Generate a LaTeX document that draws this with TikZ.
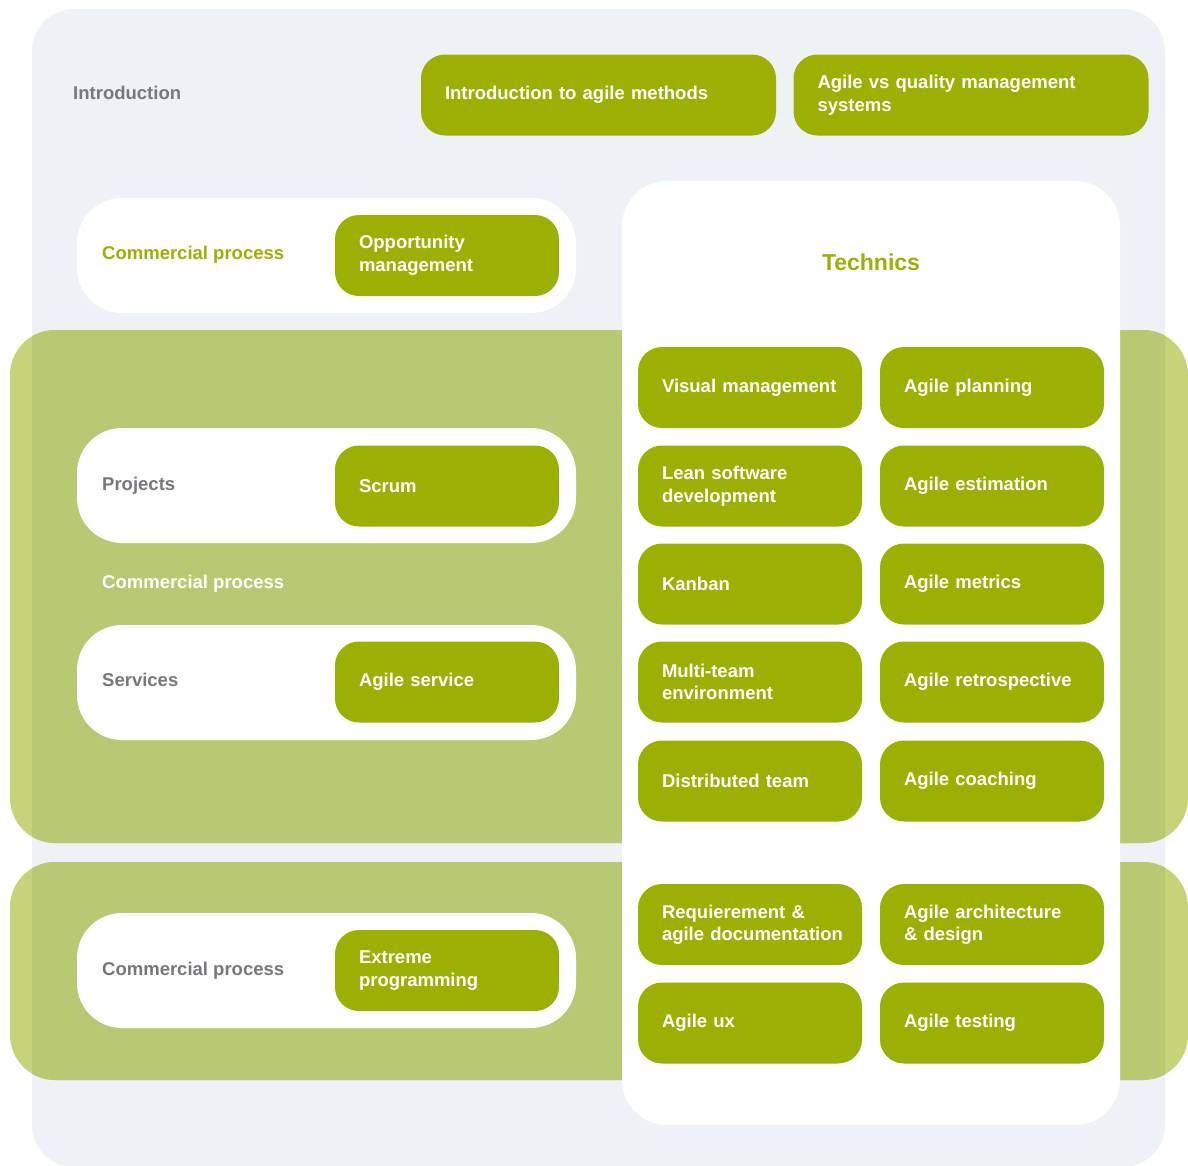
\documentclass[tikz,border=0pt]{standalone}
\usepackage{fontspec}
\setmainfont{Liberation Sans}
\definecolor{bgc}{HTML}{EEF1F6}
\definecolor{agreen}{HTML}{9CB004}
\definecolor{bandin}{HTML}{B9C872}
\definecolor{bandout}{HTML}{C6D378}
\definecolor{lgray}{HTML}{77787B}
\tikzset{
  txt/.style={font=\bfseries\fontsize{18.5}{22.5}\selectfont},
  gbox/.style={txt, fill=agreen, rounded corners=24pt, text=white, align=left,
    inner xsep=24pt, inner ysep=0pt, minimum height=81pt, text width=176pt},
  widebox/.style={gbox, text width=307pt},
  wbox/.style={fill=white, rounded corners=45pt, minimum width=499pt, minimum height=115pt, inner sep=0pt},
  lbl/.style={txt, anchor=base west, inner sep=0pt},
}
\begin{document}
\begin{tikzpicture}[x=1pt,y=-1pt]
\useasboundingbox (0,0) rectangle (1188,1165);
% background
\fill[bgc, rounded corners=42pt] (32,9) rectangle (1165,1167);
% bands
\foreach \ya/\yb in {330/843, 862/1080}{
  \fill[bandout, rounded corners=45pt] (10,\ya) rectangle (1188,\yb);
  \begin{scope}
    \clip[rounded corners=42pt] (32,9) rectangle (1165,1167);
    \fill[bandin, rounded corners=45pt] (10,\ya) rectangle (1188,\yb);
  \end{scope}
}
% white containers
\node[wbox] (wcp) at (326.5,255.5) {};
\node[wbox] (wproj) at (326.5,485.5) {};
\node[wbox] (wserv) at (326.5,682.5) {};
\node[wbox] (wxp) at (326.5,970.5) {};
\node[fill=white, rounded corners=45pt, minimum width=498pt, minimum height=944pt, inner sep=0pt] (tpanel) at (871,653) {};
% labels
\node[lbl, text=lgray] (intro) at (73,99.6) {Introduction};
\node[lbl, text=agreen] (cp1) at (102,259.6) {Commercial process};
\node[lbl, text=lgray] (proj) at (102,490.6) {Projects};
\node[lbl, text=white] (cp2) at (102,588.6) {Commercial process};
\node[lbl, text=lgray] (serv) at (102,686.6) {Services};
\node[lbl, text=lgray] (cp3) at (102,975.6) {Commercial process};
\node[font=\bfseries\fontsize{23}{28}\selectfont, text=agreen, inner sep=0pt] (tech) at (871,262) {Technics};
% top boxes
\node[widebox] (intro1) at (598.5,95) {Introduction to agile methods};
\node[widebox] (intro2) at (971,95) {Agile vs quality management\\systems};
% left boxes
\node[gbox] (opp) at (447,255.5) {Opportunity\\management};
\node[gbox] (scrum) at (447,486) {Scrum};
\node[gbox] (aserv) at (447,682) {Agile service};
\node[gbox] (xp) at (447,970.5) {Extreme\\programming};
% technics boxes
\node[gbox] (t1) at (750,387.5) {Visual management};
\node[gbox] (t2) at (992,387.5) {Agile planning};
\node[gbox] (t3) at (750,486) {Lean software\\development};
\node[gbox] (t4) at (992,486) {Agile estimation};
\node[gbox] (t5) at (750,584) {Kanban};
\node[gbox] (t6) at (992,584) {Agile metrics};
\node[gbox] (t7) at (750,682) {Multi-team\\environment};
\node[gbox] (t8) at (992,682) {Agile retrospective};
\node[gbox] (t9) at (750,781) {Distributed team};
\node[gbox] (t10) at (992,781) {Agile coaching};
\node[gbox] (t11) at (750,924.5) {Requierement \&\\\mbox{agile documentation}};
\node[gbox] (t12) at (992,924.5) {Agile architecture\\\& design};
\node[gbox] (t13) at (750,1023) {Agile ux};
\node[gbox] (t14) at (992,1023) {Agile testing};
\end{tikzpicture}
\end{document}
